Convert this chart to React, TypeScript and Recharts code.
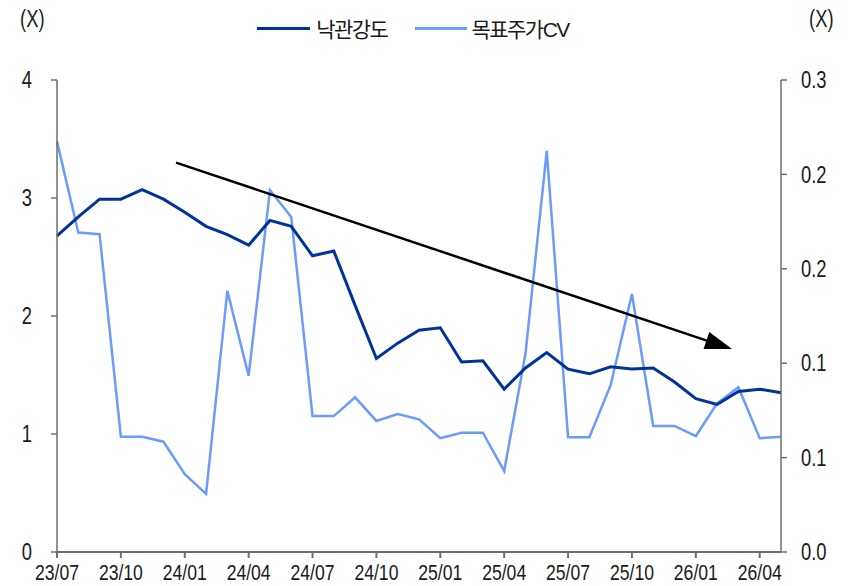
import React from "react";
import {
  LineChart,
  Line,
  XAxis,
  YAxis,
  Legend,
  ReferenceLine,
} from "recharts";

const months = [
  "23/07", "23/08", "23/09", "23/10", "23/11", "23/12",
  "24/01", "24/02", "24/03", "24/04", "24/05", "24/06",
  "24/07", "24/08", "24/09", "24/10", "24/11", "24/12",
  "25/01", "25/02", "25/03", "25/04", "25/05", "25/06",
  "25/07", "25/08", "25/09", "25/10", "25/11", "25/12",
  "26/01", "26/02", "26/03", "26/04", "26/05",
];

// 낙관강도 (left axis)
const optimism = [
  2.68, 2.84, 2.99, 2.99, 3.07, 2.99, 2.88, 2.76, 2.69, 2.6, 2.81, 2.76,
  2.51, 2.55, 2.09, 1.64, 1.77, 1.88, 1.9, 1.61, 1.62, 1.38, 1.56, 1.69,
  1.55, 1.51, 1.57, 1.55, 1.56, 1.44, 1.3, 1.25, 1.36, 1.38, 1.35,
];

// 목표주가CV (right axis)
const targetCv = [
  0.261, 0.203, 0.202, 0.0733, 0.0733, 0.0701, 0.0494, 0.0369, 0.166, 0.112,
  0.23, 0.213, 0.0864, 0.0864, 0.0983, 0.0833, 0.0877, 0.0843, 0.0723, 0.0758,
  0.0758, 0.0515, 0.126, 0.255, 0.0729, 0.0729, 0.106, 0.164, 0.0801, 0.0801,
  0.0737, 0.0945, 0.1047, 0.0723, 0.0733,
];

const xTickLabels = [
  "23/07", "23/10", "24/01", "24/04", "24/07", "24/10",
  "25/01", "25/04", "25/07", "25/10", "26/01", "26/04",
];
const leftTicks = [0, 1, 2, 3, 4];
const rightTicks = [0, 0.06, 0.12, 0.18, 0.24, 0.3];

// trend arrow: start / end in (month index, left-axis value)
const arrowFrom = { i: 5.59, v: 3.3 };
const arrowTo = { i: 31.7, v: 1.72 };

const data = months.map((m, i) => ({
  i,
  month: m,
  optimism: optimism[i],
  cv: targetCv[i],
}));

const xTicks = xTickLabels.map((l) => months.indexOf(l));

const FONT = "'Liberation Sans', Arial, 'Noto Sans CJK KR', sans-serif";
const DARK = "#003399";
const LIGHT = "#6b9bff";
const AXIS = "#6e6e6e";
const TEXT = "#1a1a1a";
const SQUEEZE = 0.8;

// narrow-looking tick text (condensed face is not available)
const NarrowTick = (props: any) => {
  const { x, y, payload, textAnchor, dy, fmt, size } = props;
  const label = fmt ? fmt(payload.value) : String(payload.value);
  return (
    <g transform={`translate(${x},${y})`}>
      <text
        transform={`scale(${SQUEEZE},1)`}
        textAnchor={textAnchor}
        dy={dy}
        fill={TEXT}
        fontFamily={FONT}
        fontSize={size || 23}
      >
        {label}
      </text>
    </g>
  );
};

const Arrow = (props: any) => {
  const { x1, y1, x2, y2 } = props;
  const dx = x2 - x1;
  const dy = y2 - y1;
  const len = Math.sqrt(dx * dx + dy * dy);
  const ux = dx / len;
  const uy = dy / len;
  const headL = 27;
  const headW = 9;
  const bx = x2 - ux * headL;
  const by = y2 - uy * headL;
  return (
    <g>
      <line x1={x1} y1={y1} x2={bx + ux * 2} y2={by + uy * 2} stroke="#000" strokeWidth={2.5} />
      <polygon
        points={`${x2},${y2} ${bx - uy * headW},${by + ux * headW} ${bx + uy * headW},${by - ux * headW}`}
        fill="#000"
      />
    </g>
  );
};

const legendText = {
  fontSize: 21,
  letterSpacing: -1.5,
  display: "inline-block",
};

const renderLegend = () => (
  <div
    style={{
      display: "flex",
      justifyContent: "center",
      alignItems: "center",
      height: 30,
      fontFamily: FONT,
      color: TEXT,
      marginLeft: -28,
    }}
  >
    <div style={{ display: "flex", alignItems: "center", marginRight: 28 }}>
      <div style={{ width: 53, height: 3, background: DARK, marginRight: 6 }} />
      <span style={legendText}>낙관강도</span>
    </div>
    <div style={{ display: "flex", alignItems: "center" }}>
      <div style={{ width: 52, height: 3, background: LIGHT, marginRight: 4 }} />
      <span style={legendText}>목표주가CV</span>
    </div>
  </div>
);

const unitStyle: React.CSSProperties = {
  position: "absolute",
  top: 6,
  fontFamily: FONT,
  fontSize: 23,
  color: TEXT,
  transform: `scaleX(${SQUEEZE})`,
  transformOrigin: "left top",
};

export default function App() {
  return (
    <div style={{ position: "relative", width: 854, height: 586, background: "#fff" }}>
      <style>{`body{margin:0}`}</style>
      <div style={{ ...unitStyle, left: 20 }}>(X)</div>
      <div style={{ ...unitStyle, left: 809 }}>(X)</div>
      <LineChart
        width={854}
        height={586}
        data={data}
        margin={{ top: 50, right: 13, bottom: 4, left: 17 }}
      >
        <Legend
          verticalAlign="top"
          content={renderLegend}
          wrapperStyle={{ top: 13, left: 0, width: 854, height: 30 }}
        />
        <XAxis
          dataKey="i"
          type="number"
          domain={[0, 34]}
          ticks={xTicks}
          interval={0}
          height={30}
          stroke={AXIS}
          strokeWidth={2}
          tickSize={6}
          tickMargin={6}
          tick={<NarrowTick dy="0.71em" size={22} fmt={(i: number) => months[i]} />}
        />
        <YAxis
          yAxisId="left"
          domain={[0, 4]}
          ticks={leftTicks}
          width={40}
          stroke={AXIS}
          strokeWidth={1.5}
          tickSize={6}
          tickMargin={19}
          tick={<NarrowTick dy="0.355em" />}
        />
        <YAxis
          yAxisId="right"
          orientation="right"
          domain={[0, 0.3]}
          ticks={rightTicks}
          width={60}
          stroke={AXIS}
          strokeWidth={1.5}
          tickSize={6}
          tickMargin={14}
          tick={<NarrowTick dy="0.355em" fmt={(v: number) => v.toFixed(1)} />}
        />
        <Line
          yAxisId="right"
          dataKey="cv"
          name="목표주가CV"
          stroke={LIGHT}
          strokeWidth={2.5}
          dot={false}
          isAnimationActive={false}
        />
        <Line
          yAxisId="left"
          dataKey="optimism"
          name="낙관강도"
          stroke={DARK}
          strokeWidth={3}
          dot={false}
          isAnimationActive={false}
        />
        <ReferenceLine
          yAxisId="left"
          segment={[
            { x: arrowFrom.i, y: arrowFrom.v },
            { x: arrowTo.i, y: arrowTo.v },
          ]}
          shape={Arrow}
          ifOverflow="visible"
        />
      </LineChart>
    </div>
  );
}
